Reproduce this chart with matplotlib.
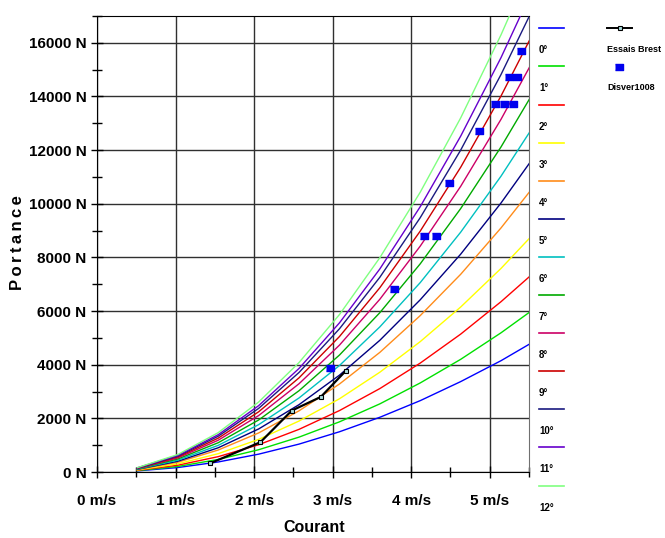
import matplotlib
matplotlib.use('Agg')
import matplotlib.pyplot as plt
from matplotlib.ticker import MultipleLocator, FuncFormatter

plt.rcParams['font.family'] = ['Liberation Sans', 'DejaVu Sans']
plt.rcParams['font.weight'] = 'bold'

# vitesses des noeuds 1..11 (m/s)
vitesse = [0.514, 1.029, 1.543, 2.058, 2.572, 3.087, 3.601, 4.115, 4.630, 5.144, 5.659]

# portance (N) lue pour chaque angle
portance_0 = [42, 166, 374, 665, 1040, 1500, 2040, 2660, 3370, 4150, 5030]
portance_1 = [52, 207, 467, 830, 1300, 1870, 2540, 3320, 4200, 5190, 6280]
portance_2 = [64, 254, 572, 1016, 1590, 2290, 3110, 4060, 5140, 6350, 7680]
portance_3 = [76, 304, 683, 1215, 1900, 2730, 3720, 4860, 6150, 7590, 9190]
portance_4 = [91, 364, 819, 1456, 2280, 3280, 4460, 5830, 7370, 9100, 11010]
portance_5 = [100, 401, 903, 1605, 2510, 3610, 4910, 6420, 8120, 10030, 12140]
portance_6 = [110, 441, 993, 1765, 2760, 3970, 5410, 7060, 8940, 11030, 13350]
portance_7 = [121, 485, 1091, 1939, 3030, 4360, 5940, 7760, 9820, 12120, 14660]
portance_8 = [132, 526, 1184, 2104, 3290, 4730, 6440, 8420, 10650, 13150, 15910]
portance_9 = [140, 561, 1262, 2244, 3510, 5050, 6870, 8980, 11360, 14020, 16970]
portance_10 = [148, 593, 1334, 2371, 3710, 5340, 7260, 9480, 12000, 14820, 17930]
portance_11 = [155, 618, 1391, 2473, 3860, 5560, 7570, 9890, 12520, 15450, 18700]
portance_12 = [163, 652, 1467, 2608, 4080, 5870, 7990, 10430, 13200, 16300, 19720]

angles = ['0°', '1°', '2°', '3°', '4°', '5°', '6°', '7°', '8°', '9°', '10°', '11°', '12°']
couleurs = ['#0000ff', '#00e000', '#ff0000', '#ffff00', '#ff8c1a', '#000080', '#00c0c0',
            '#00aa00', '#cc0066', '#cc0000', '#1a1a80', '#6600cc', '#80ff80']

brest_v = [1.44, 2.08, 2.48, 2.85, 3.17]
brest_p = [325, 1110, 2290, 2800, 3780]

disver_v = [2.97, 3.78, 4.16, 4.32, 4.48, 4.86, 5.07, 5.18, 5.30, 5.24, 5.35, 5.40]
disver_p = [3880, 6820, 8790, 8790, 10780, 12730, 13720, 13720, 13720, 14710, 14710, 15710]

courbes = [portance_0, portance_1, portance_2, portance_3, portance_4, portance_5, portance_6,
           portance_7, portance_8, portance_9, portance_10, portance_11, portance_12]

W, H = 665, 538
fig = plt.figure(figsize=(W / 100, H / 100), dpi=100)
ax = fig.add_axes([97 / W, 1 - 472 / H, (529 - 97) / W, (472 - 16) / H])

for p, c in zip(courbes, couleurs):
    ax.plot(vitesse, p, color=c, lw=1.0, zorder=3)

ax.plot(brest_v, brest_p, color='black', lw=1.6, marker='s', ms=3.5,
        mfc='#aadddd', mec='black', mew=0.8, zorder=5)

rect = [(-1, -0.72), (1, -0.72), (1, 0.72), (-1, 0.72)]
ax.plot(disver_v, disver_p, ls='none', marker=rect, ms=6.2, color='#0000ee', zorder=6)

ax.set_xlim(0, 5.5)
ax.set_ylim(0, 17000)
ax.xaxis.set_major_locator(MultipleLocator(1))
ax.xaxis.set_minor_locator(MultipleLocator(0.5))
ax.yaxis.set_major_locator(MultipleLocator(2000))
ax.yaxis.set_minor_locator(MultipleLocator(1000))
ax.xaxis.set_major_formatter(FuncFormatter(lambda v, _: '%d m/s' % round(v)))
ax.yaxis.set_major_formatter(FuncFormatter(lambda v, _: '%d N' % round(v)))
ax.grid(True, which='major', color='#303030', lw=1.0, zorder=1)
ax.tick_params(which='major', direction='inout', length=9, width=1, labelsize=11)
ax.tick_params(which='minor', direction='inout', length=7, width=1)
ax.tick_params(axis='x', which='major', pad=11)
ax.tick_params(axis='y', which='major', pad=3)
for s in ['left', 'bottom', 'top']:
    ax.spines[s].set_color('black')
ax.spines['right'].set_color('#707070')

fig.text(18 / W, 1 - 243 / H, 'P\u2009o\u2009r\u2009t\u2009a\u2009n\u2009c\u2009e', rotation=90,
         ha='center', va='center', fontsize=12, fontweight='bold')
fig.text(314 / W, 1 - 527 / H, 'Courant', ha='center', va='center', fontsize=11.5, fontweight='bold')

# legende a droite (coordonnees en pixels)
lax = fig.add_axes([0, 0, 1, 1])
lax.set_xlim(0, W)
lax.set_ylim(H, 0)
lax.axis('off')
for i, (a, c) in enumerate(zip(angles, couleurs)):
    y = 28.3 + 38.1 * i
    lax.plot([539, 564], [y, y], color=c, lw=1.2)
    lax.text(539, y + 22, a, fontsize=7, fontweight='bold', ha='left', va='center')
lax.plot([607, 632], [28.3, 28.3], color='black', lw=1.4)
lax.plot([619.5], [28.3], marker='s', ms=3.5, mfc='#aadddd', mec='black', mew=0.8)
lax.text(607, 50, 'Essais Brest', fontsize=6.5, fontweight='bold', ha='left', va='center')
lax.plot([619], [66.5], ls='none', marker=rect, ms=6.2, color='#0000ee')
lax.text(607, 88, 'Disver1008', fontsize=6.5, fontweight='bold', ha='left', va='center')

fig.savefig('out.png', dpi=100)
